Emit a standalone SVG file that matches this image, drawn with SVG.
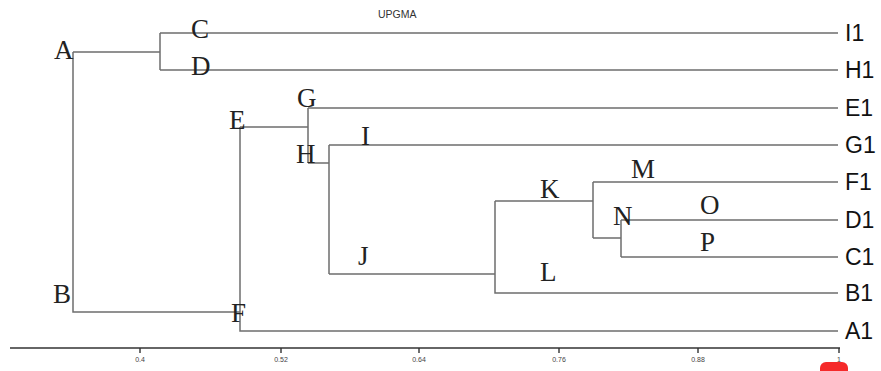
<svg xmlns="http://www.w3.org/2000/svg" width="881" height="371" viewBox="0 0 881 371">
<style>
.br{stroke:#6e6e6e;stroke-width:1.5;fill:none}
.nd{font-family:"Liberation Serif",serif;font-size:27px;fill:#222}
.lf{font-family:"Liberation Sans",Arial,sans-serif;font-size:23px;fill:#111}
.tk{font-family:"Liberation Sans",Arial,sans-serif;font-size:7px;fill:#444;text-anchor:middle}
.ax{stroke:#333;stroke-width:1.4;fill:none}
</style>
<rect width="881" height="371" fill="#fff"/>
<text x="378" y="18" font-family="Liberation Sans,Arial,sans-serif" font-size="10.5" fill="#333">UPGMA</text>
<g id="connectors">
<path class="br" d="M73,52H160M160,33V70M160,33H838M160,70H838"/>
<path class="br" d="M73,52V312H240"/>
<path class="br" d="M240,127V331H838"/>
<path class="br" d="M240,127H308M308,108V163M308,108H838M308,163H329"/>
<path class="br" d="M329,145V274M329,145H838M329,274H495"/>
<path class="br" d="M495,201V293H838M495,201H593M593,182V238M593,182H838M593,238H621"/>
<path class="br" d="M621,220V257M621,220H838M621,257H838"/>
</g>
<g id="nodeA"><text class="nd" x="54" y="59">A</text></g>
<g id="nodeB"><text class="nd" x="53" y="303">B</text></g>
<g id="nodeC"><text class="nd" x="191" y="38">C</text></g>
<g id="nodeD"><text class="nd" x="191" y="75">D</text></g>
<g id="nodeE"><text class="nd" x="229" y="129">E</text></g>
<g id="nodeF"><text class="nd" x="231" y="322">F</text></g>
<g id="nodeG"><text class="nd" x="297" y="107">G</text></g>
<g id="nodeH"><text class="nd" x="296" y="163">H</text></g>
<g id="nodeI"><text class="nd" x="361" y="145">I</text></g>
<g id="nodeJ"><text class="nd" x="358" y="265">J</text></g>
<g id="nodeK"><text class="nd" x="540" y="198">K</text></g>
<g id="nodeL"><text class="nd" x="540" y="281">L</text></g>
<g id="nodeM"><text class="nd" x="631" y="178">M</text></g>
<g id="nodeN"><text class="nd" x="613" y="225">N</text></g>
<g id="nodeO"><text class="nd" x="700" y="214">O</text></g>
<g id="nodeP"><text class="nd" x="700" y="251">P</text></g>
<g id="leafI1"><text class="lf" x="845" y="41">I1</text></g>
<g id="leafH1"><text class="lf" x="845" y="78">H1</text></g>
<g id="leafE1"><text class="lf" x="845" y="116">E1</text></g>
<g id="leafG1"><text class="lf" x="845" y="153">G1</text></g>
<g id="leafF1"><text class="lf" x="845" y="190">F1</text></g>
<g id="leafD1"><text class="lf" x="845" y="228">D1</text></g>
<g id="leafC1"><text class="lf" x="845" y="265">C1</text></g>
<g id="leafB1"><text class="lf" x="845" y="301">B1</text></g>
<g id="leafA1"><text class="lf" x="845" y="339">A1</text></g>
<g id="axis">
<path class="ax" d="M10,348H840"/>
<path class="ax" stroke-width="1" d="M140,348V353M281,348V353M419,348V353M559,348V353M698,348V353M839,348V353"/>
<text class="tk" x="140" y="362">0.4</text>
<text class="tk" x="281" y="362">0.52</text>
<text class="tk" x="419" y="362">0.64</text>
<text class="tk" x="559" y="362">0.76</text>
<text class="tk" x="698" y="362">0.88</text>
<text class="tk" x="839" y="362">1</text>
</g>
<rect x="820" y="362" width="28" height="20" rx="6" fill="#f52a2a"/>
</svg>
